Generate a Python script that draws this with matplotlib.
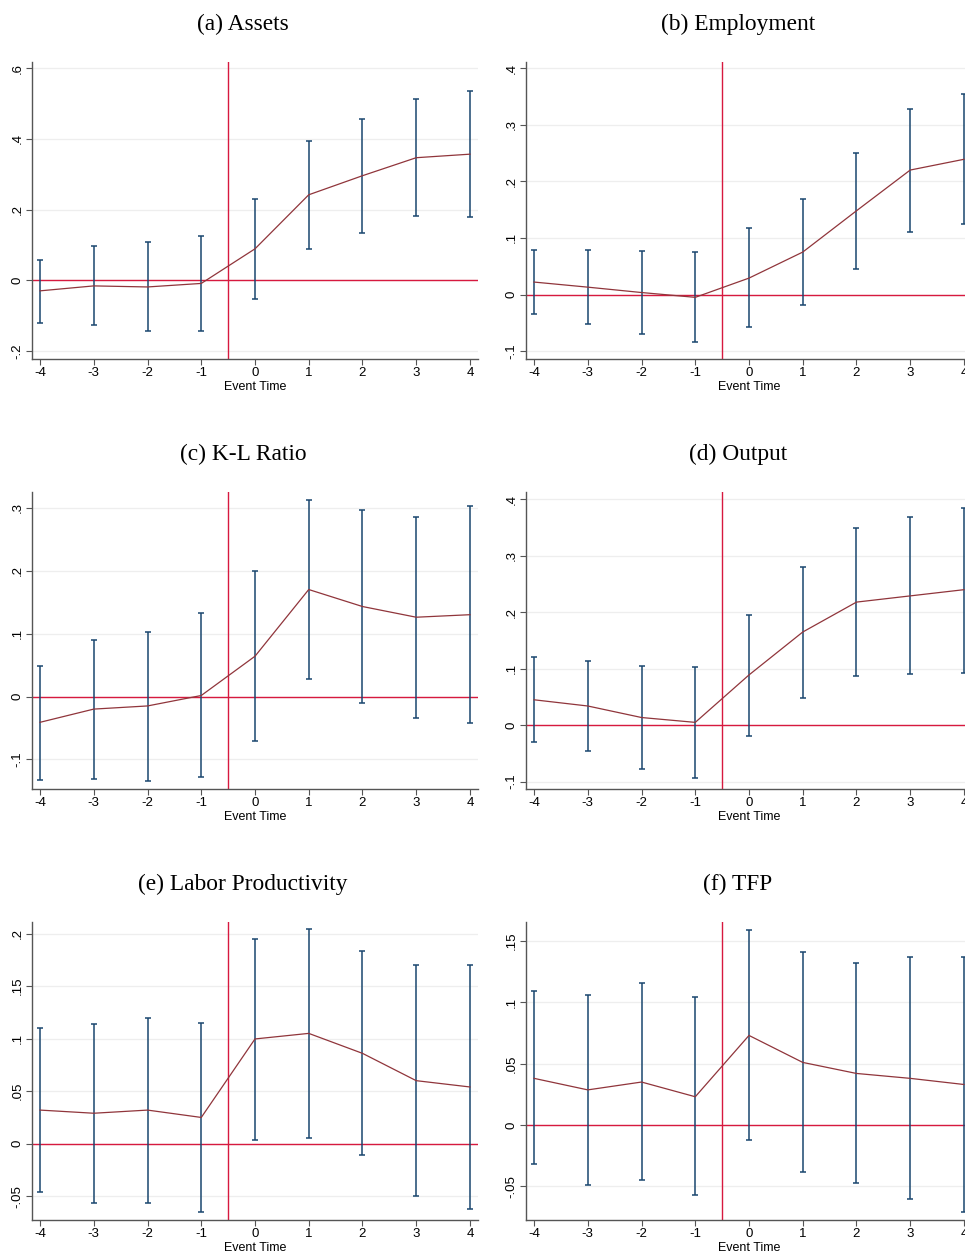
import matplotlib
matplotlib.use("Agg")
import matplotlib.pyplot as plt
import numpy as np

# event time
event_time = [-4, -3, -2, -1, 0, 1, 2, 3, 4]

# point estimates and 95% bounds
assets_coef = [-0.030, -0.016, -0.019, -0.009, 0.089, 0.242, 0.296, 0.347, 0.357]
assets_hi = [0.057, 0.096, 0.107, 0.126, 0.230, 0.394, 0.457, 0.512, 0.535]
assets_lo = [-0.120, -0.128, -0.144, -0.145, -0.052, 0.089, 0.134, 0.181, 0.180]

empl_coef = [0.022, 0.013, 0.0035, -0.005, 0.029, 0.075, 0.148, 0.220, 0.239]
empl_hi = [0.079, 0.079, 0.077, 0.075, 0.117, 0.168, 0.251, 0.328, 0.354]
empl_lo = [-0.035, -0.053, -0.070, -0.084, -0.057, -0.018, 0.045, 0.110, 0.125]

kl_coef = [-0.041, -0.020, -0.015, 0.0016, 0.064, 0.170, 0.143, 0.126, 0.130]
kl_hi = [0.049, 0.090, 0.103, 0.132, 0.200, 0.313, 0.296, 0.285, 0.302]
kl_lo = [-0.133, -0.131, -0.135, -0.128, -0.071, 0.028, -0.011, -0.034, -0.042]

output_coef = [0.045, 0.034, 0.0136, 0.005, 0.089, 0.165, 0.218, 0.229, 0.240]
output_hi = [0.120, 0.113, 0.105, 0.103, 0.195, 0.281, 0.349, 0.368, 0.385]
output_lo = [-0.030, -0.045, -0.078, -0.094, -0.019, 0.049, 0.087, 0.091, 0.093]

lp_coef = [0.032, 0.029, 0.032, 0.025, 0.0997, 0.105, 0.086, 0.060, 0.054]
lp_hi = [0.110, 0.114, 0.120, 0.115, 0.195, 0.204, 0.183, 0.170, 0.170]
lp_lo = [-0.046, -0.056, -0.056, -0.065, 0.0038, 0.0057, -0.011, -0.050, -0.062]

tfp_coef = [0.038, 0.0286, 0.035, 0.023, 0.073, 0.051, 0.042, 0.038, 0.033]
tfp_hi = [0.109, 0.106, 0.116, 0.104, 0.159, 0.141, 0.132, 0.137, 0.137]
tfp_lo = [-0.032, -0.049, -0.045, -0.057, -0.0125, -0.038, -0.047, -0.060, -0.071]

titles = ["(a) Assets", "(b) Employment", "(c) K-L Ratio",
          "(d) Output", "(e) Labor Productivity", "(f) TFP"]
ytick_vals = [
    [-0.2, 0, 0.2, 0.4, 0.6],
    [-0.1, 0, 0.1, 0.2, 0.3, 0.4],
    [-0.1, 0, 0.1, 0.2, 0.3],
    [-0.1, 0, 0.1, 0.2, 0.3, 0.4],
    [-0.05, 0, 0.05, 0.1, 0.15, 0.2],
    [-0.05, 0, 0.05, 0.1, 0.15],
]
ytick_labels = [
    ["-.2", "0", ".2", ".4", ".6"],
    ["-.1", "0", ".1", ".2", ".3", ".4"],
    ["-.1", "0", ".1", ".2", ".3"],
    ["-.1", "0", ".1", ".2", ".3", ".4"],
    ["-.05", "0", ".05", ".1", ".15", ".2"],
    ["-.05", "0", ".05", ".1", ".15"],
]
ylims = [(-0.223, 0.618), (-0.114, 0.411), (-0.147, 0.325),
         (-0.113, 0.413), (-0.0726, 0.211), (-0.0775, 0.1655)]

panels = [
    (assets_coef, assets_lo, assets_hi),
    (empl_coef, empl_lo, empl_hi),
    (kl_coef, kl_lo, kl_hi),
    (output_coef, output_lo, output_hi),
    (lp_coef, lp_lo, lp_hi),
    (tfp_coef, tfp_lo, tfp_hi),
]

W, H = 965, 1253
fig = plt.figure(figsize=(W / 100, H / 100), dpi=100)

# axes boxes in pixels: left, top, right, bottom
col_x = [(32, 478), (526, 972)]
row_y = [(62, 359), (492, 789), (922, 1220)]
title_x = [243, 738]
title_y = [24, 454, 884]

ci_color = "#1a476f"
coef_color = "#90353b"
ref_color = "#d7193f"

for i, (coef, lo, hi) in enumerate(panels):
    r, c = divmod(i, 2)
    x0, x1 = col_x[c]
    y0, y1 = row_y[r]
    ax = fig.add_axes([x0 / W, 1 - y1 / H, (x1 - x0) / W, (y1 - y0) / H])

    ax.set_xlim(-4.15, 4.15)
    ax.set_ylim(*ylims[i])
    ax.set_yticks(ytick_vals[i])
    ax.set_yticklabels(ytick_labels[i], rotation=90, va="center",
                       fontfamily="Liberation Sans", fontsize=9.5)
    ax.set_xticks(event_time)
    ax.set_xticklabels([str(t) for t in event_time],
                       fontfamily="Liberation Sans", fontsize=9.5)
    ax.grid(axis="y", color="#eeeeee", linewidth=0.9)
    ax.set_axisbelow(True)
    for side in ["top", "right"]:
        ax.spines[side].set_visible(False)
    for side in ["left", "bottom"]:
        ax.spines[side].set_color("#555555")
        ax.spines[side].set_linewidth(1.0)
    ax.tick_params(direction="out", length=4, width=0.8, color="#555555",
                   pad=2)

    ax.axhline(0, color=ref_color, linewidth=1.0, zorder=2)
    ax.axvline(-0.5, color=ref_color, linewidth=1.0, zorder=2)

    coef_a = np.array(coef)
    yerr = [coef_a - np.array(lo), np.array(hi) - coef_a]
    ax.errorbar(event_time, coef, yerr=yerr, fmt="none", ecolor=ci_color,
                elinewidth=1.1, capsize=2.2, capthick=1.1, zorder=3)
    ax.plot(event_time, coef, color=coef_color, linewidth=0.9, zorder=4)

    ax.set_xlabel("Event Time", fontfamily="Liberation Sans", fontsize=9,
                  labelpad=1)

    fig.text(title_x[c] / W, 1 - title_y[r] / H, titles[i], ha="center",
             va="center", fontfamily="Liberation Serif", fontsize=16.8)

fig.savefig("out.png", dpi=100)
